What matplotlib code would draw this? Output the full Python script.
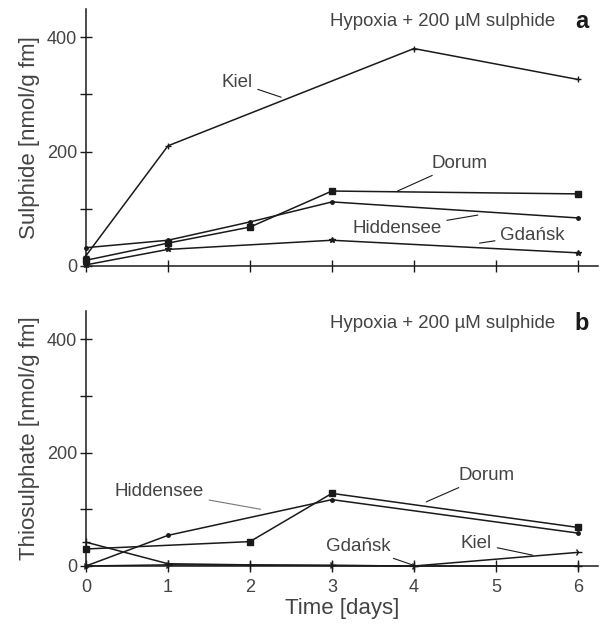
import matplotlib
matplotlib.use("Agg")
import matplotlib.pyplot as plt

plt.rcParams['font.family'] = ['Liberation Sans', 'DejaVu Sans']

days = [0, 1, 2, 3, 4, 5, 6]
y_ticks = [0, 100, 200, 300, 400]
y_ticklabels = ["0", "", "200", "", "400"]

# panel a: sulphide
kiel_a_x = [0, 1, 4, 6]
kiel_a = [18, 210, 380, 326]
dorum_a_x = [0, 1, 2, 3, 6]
dorum_a = [10, 40, 68, 131, 126]
hidd_a_x = [0, 1, 2, 3, 6]
hidd_a = [32, 45, 77, 112, 84]
gdansk_a_x = [0, 1, 3, 6]
gdansk_a = [2, 29, 45, 23]

# panel b: thiosulphate
dorum_b_x = [0, 2, 3, 6]
dorum_b = [30, 43, 128, 68]
hidd_b_x = [0, 1, 3, 6]
hidd_b = [0, 54, 117, 58]
gdansk_b_x = [0, 1, 2, 3, 4, 6]
gdansk_b = [42, 4, 2, 1, 0, 0]
kiel_b_x = [0, 1, 3, 4, 6]
kiel_b = [0, 2, 1, 0, 24]

ink = '#1a1a1a'
soft = '#444444'

fig = plt.figure(figsize=(6.08, 6.25), dpi=100)
ax_a = fig.add_axes([0.1414, 0.5744, 0.8428, 0.412])
ax_b = fig.add_axes([0.1414, 0.0944, 0.8428, 0.4085])


def style(ax, ylabel, show_x):
    ax.set_xlim(0, 6.25)
    ax.set_ylim(0, 450)
    for s in ['top', 'right']:
        ax.spines[s].set_visible(False)
    for s in ['left', 'bottom']:
        ax.spines[s].set_linewidth(1.1)
        ax.spines[s].set_color(ink)
    ax.set_xticks(days)
    ax.set_yticks(y_ticks)
    ax.set_yticklabels(y_ticklabels)
    ax.tick_params(direction='inout', length=9, width=1, color=ink,
                   labelcolor=soft, labelsize=13)
    ax.tick_params(axis='x', pad=5)
    ax.tick_params(axis='y', pad=2)
    if not show_x:
        ax.set_xticklabels([])
    ax.set_ylabel(ylabel, fontsize=16, color=soft, labelpad=5)


def series(ax, x, y, marker, ms):
    ax.plot(x, y, color=ink, lw=1.1, marker=marker, ms=ms,
            mfc=ink, mec=ink, clip_on=False)


series(ax_a, kiel_a_x, kiel_a, '+', 4)
series(ax_a, dorum_a_x, dorum_a, 's', 5)
series(ax_a, hidd_a_x, hidd_a, 'o', 2.5)
series(ax_a, gdansk_a_x, gdansk_a, '*', 4)

series(ax_b, dorum_b_x, dorum_b, 's', 5)
series(ax_b, hidd_b_x, hidd_b, 'o', 2.5)
series(ax_b, gdansk_b_x, gdansk_b, '+', 6)
series(ax_b, kiel_b_x, kiel_b, '4', 6)

style(ax_a, 'Sulphide [nmol/g fm]', False)
style(ax_b, 'Thiosulphate [nmol/g fm]', True)
ax_b.set_xlabel('Time [days]', fontsize=16, color=soft, labelpad=1)


def label(ax, text, xy, xytext, ha='center', lc=ink):
    ax.annotate(text, xy=xy, xytext=xytext, fontsize=13.5, color=soft,
                ha=ha, va='center',
                arrowprops=dict(arrowstyle='-', color=lc, lw=0.8,
                                shrinkA=2, shrinkB=0))


label(ax_a, 'Kiel', (2.38, 295), (1.84, 321))
label(ax_a, 'Dorum', (3.80, 131), (4.56, 180))
label(ax_a, 'Hiddensee', (4.78, 89), (3.79, 65))
label(ax_a, 'Gdańsk', (4.80, 40), (5.45, 54))

label(ax_b, 'Hiddensee', (2.13, 100), (0.89, 132), lc='#777777')
label(ax_b, 'Dorum', (4.15, 113), (4.89, 160))
label(ax_b, 'Gdańsk', (3.98, 2), (3.32, 35))
label(ax_b, 'Kiel', (5.45, 19), (4.76, 40))

for ax, tag in [(ax_a, 'a'), (ax_b, 'b')]:
    ax.text(5.72, 428, 'Hypoxia + 200 µM sulphide', fontsize=13.4,
            color=soft, ha='right', va='center')
    ax.text(6.05, 428, tag, fontsize=17, fontweight='bold',
            color=ink, ha='center', va='center')

fig.savefig('out.png', dpi=100)
